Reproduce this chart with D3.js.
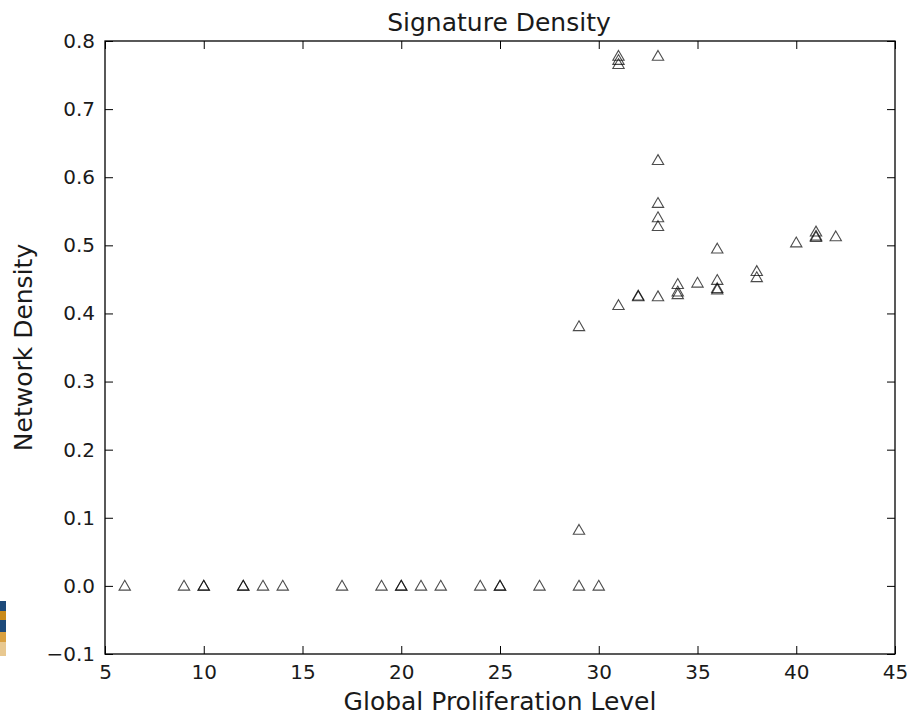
<!DOCTYPE html>
<html><head><meta charset="utf-8">
<script src="https://cdn.jsdelivr.net/npm/d3@7"></script>
<style>body{margin:0;background:#fff}svg text{font-family:"DejaVu Sans",sans-serif}</style>
</head><body><svg id="c" width="907" height="715"></svg>
<script>
const xValues = [6,9,10,10,12,12,13,14,17,19,20,20,21,22,24,25,25,27,29,30,
  29,29,31,31,31,31,33,33,33,33,33,33,32,32,34,34,34,35,36,36,36,36,38,38,40,41,41,41,42];
const yValues = [0,0,0,0,0,0,0,0,0,0,0,0,0,0,0,0,0,0,0,0,
  0.082,0.381,0.412,0.778,0.772,0.766,0.778,0.625,0.562,0.541,0.528,0.425,0.425,0.426,0.443,0.432,0.428,0.445,0.495,0.449,0.437,0.435,0.462,0.453,0.504,0.520,0.512,0.514,0.513];
const xTicks = [5,10,15,20,25,30,35,40,45];
const yTicks = [-0.1,0,0.1,0.2,0.3,0.4,0.5,0.6,0.7,0.8];
const title = "Signature Density", xLabel = "Global Proliferation Level", yLabel = "Network Density";

const svg = d3.select("#c");
const L=105,R=895,T=41,B=654;
const x = d3.scaleLinear().domain([5,45]).range([L,R]);
const y = d3.scaleLinear().domain([-0.1,0.8]).range([B,T]);

// small image fragment at left edge
const frag = svg.append("g");
[["#1d4a7a",601,10],["#c98a1a",611,9],["#1d4a7a",620,12],["#d9a040",632,10],["#e8c890",642,14]].forEach(d=>{
  frag.append("rect").attr("x",0).attr("y",d[1]).attr("width",6).attr("height",d[2]).attr("fill",d[0]);
});

const fmtY = d => d3.format(".1f")(d).replace("-","\u2212");
const tl = 8;
const gx = svg.append("g").attr("transform",`translate(0,${B})`)
  .call(d3.axisBottom(x).tickValues(xTicks).tickSize(-tl).tickPadding(11).tickFormat(d3.format("d")));
const gxt = svg.append("g").attr("transform",`translate(0,${T})`)
  .call(d3.axisTop(x).tickValues(xTicks).tickSize(-tl).tickFormat(""));
const gy = svg.append("g").attr("transform",`translate(${L},0)`)
  .call(d3.axisLeft(y).tickValues(yTicks).tickSize(-tl).tickPadding(10).tickFormat(fmtY));
const gyr = svg.append("g").attr("transform",`translate(${R},0)`)
  .call(d3.axisRight(y).tickValues(yTicks).tickSize(-tl).tickFormat(""));
[gx,gxt,gy,gyr].forEach(g=>{
  g.select(".domain").remove();
  g.selectAll("line").attr("stroke","#000").attr("stroke-width",1);
  g.selectAll("text").attr("font-size",20).attr("fill","#1a1a1a").attr("font-family","DejaVu Sans, sans-serif");
});
gx.selectAll("text").attr("dy","0.71em");

svg.append("rect").attr("x",L).attr("y",T).attr("width",R-L).attr("height",B-T)
  .attr("fill","none").attr("stroke","#000").attr("stroke-width",1.3);

const tri = d3.symbol().type(d3.symbolTriangle).size(56);
svg.append("g").selectAll("path").data(xValues.map((v,i)=>[v,yValues[i]])).join("path")
  .attr("d",tri).attr("transform",d=>`translate(${x(d[0])},${y(d[1])+1})`)
  .attr("fill","none").attr("stroke","#000").attr("stroke-opacity",0.7).attr("stroke-width",1.1);

svg.append("text").attr("x",499).attr("y",31).attr("text-anchor","middle").attr("font-size",25).attr("fill","#1a1a1a").text(title);
svg.append("text").attr("x",500).attr("y",710).attr("text-anchor","middle").attr("font-size",25).attr("fill","#1a1a1a").text(xLabel);
svg.append("text").attr("transform",`translate(32,${(T+B)/2}) rotate(-90)`).attr("text-anchor","middle").attr("font-size",25).attr("fill","#1a1a1a").text(yLabel);
</script></body></html>
